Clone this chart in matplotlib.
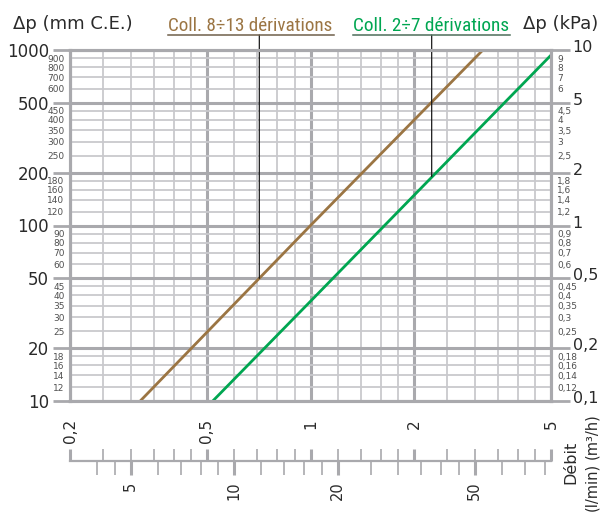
import matplotlib
matplotlib.use('Agg')
import matplotlib.pyplot as plt
import matplotlib.transforms as mtransforms
from matplotlib import font_manager
from matplotlib.lines import Line2D

plt.rcParams['font.family'] = 'DejaVu Sans'

# ==========================
# data
# ==========================
q_brown = [0.32, 1.0, 3.17]      # m3/h
dp_brown = [10, 100, 1000]       # mm C.E.
q_green = [0.52, 1.0, 5.0]
dp_green = [10, 37, 935]
lead_brown = (0.71, 50)          # where the label lines hit the curves
lead_green = (2.25, 190)

label_brown = "Coll. 8÷13 dérivations"
label_green = "Coll. 2÷7 dérivations"

mm_major = [10, 20, 50, 100, 200, 500, 1000]
mm_minor = [12, 14, 16, 18, 25, 30, 35, 40, 45, 60, 70, 80, 90,
            120, 140, 160, 180, 250, 300, 350, 400, 450, 600, 700, 800, 900]
kpa_major_lbl = ['0,1', '0,2', '0,5', '1', '2', '5', '10']
kpa_minor_lbl = ['0,12', '0,14', '0,16', '0,18', '0,25', '0,3', '0,35', '0,4', '0,45',
                 '0,6', '0,7', '0,8', '0,9', '1,2', '1,4', '1,6', '1,8',
                 '2,5', '3', '3,5', '4', '4,5', '6', '7', '8', '9']
q_major = [0.2, 0.5, 1, 2, 5]
q_major_lbl = ['0,2', '0,5', '1', '2', '5']
q_minor = [0.25, 0.3, 0.35, 0.4, 0.45, 0.6, 0.7, 0.8, 0.9,
           1.2, 1.4, 1.6, 1.8, 2.5, 3, 3.5, 4, 4.5]
lmin_major = [5, 10, 20, 50]
lmin_minor = [4, 4.5, 6, 7, 8, 9, 12, 14, 16, 18, 25, 30, 35, 40, 45, 60, 70, 80]

# ==========================
# style
# ==========================
BROWN = '#9b7543'
GREEN = '#00a651'
GRID_THIN = '#c9c9cd'
GRID_BOLD = '#a9a9ad'
TXT = '#2a2a2a'
TXT_SMALL = '#505050'

W, H = 608, 513
fig = plt.figure(figsize=(W / 100, H / 100), dpi=100)


def px(x, y):
    return x / W, 1 - y / H


L, R, T, B = 70, 551, 50, 401
ax = fig.add_axes([L / W, 1 - B / H, (R - L) / W, (B - T) / H])
ax.set_xscale('log')
ax.set_yscale('log')
ax.set_xlim(q_major[0], q_major[-1])
ax.set_ylim(mm_major[0], mm_major[-1])

ax.plot(q_brown, dp_brown, color=BROWN, lw=2.0, solid_capstyle='butt', zorder=3)
ax.plot(q_green, dp_green, color=GREEN, lw=2.0, solid_capstyle='butt', zorder=3)

# grid
ax.set_xticks(q_major)
ax.set_xticks(q_minor, minor=True)
ax.set_yticks(mm_major)
ax.set_yticks(mm_minor, minor=True)
ax.grid(which='minor', color=GRID_THIN, lw=1.3)
ax.grid(which='major', color=GRID_BOLD, lw=2.2)
ax.set_axisbelow(True)

ax.set_xticklabels(q_major_lbl, rotation=90, fontsize=11, color=TXT)
ax.set_xticklabels([], minor=True)
ax.tick_params(axis='x', which='both', length=0, pad=13)

ax.set_yticklabels([str(v) for v in mm_major], fontsize=12, color=TXT)
ax.set_yticklabels([str(v) for v in mm_minor], minor=True, fontsize=6.5, color=TXT_SMALL)
ax.tick_params(axis='y', which='major', length=12, width=2, color=GRID_BOLD, pad=3)
ax.tick_params(axis='y', which='minor', length=0, pad=4)

for s in ax.spines.values():
    s.set_color(GRID_BOLD)
    s.set_linewidth(2.2)

# right axis in kPa
axr = ax.twinx()
axr.set_yscale('log')
axr.set_ylim(mm_major[0] / 100, mm_major[-1] / 100)
axr.set_yticks([v / 100 for v in mm_major])
axr.set_yticks([v / 100 for v in mm_minor], minor=True)
axr.set_yticklabels(kpa_major_lbl, fontsize=11.5, color=TXT)
axr.set_yticklabels(kpa_minor_lbl, minor=True, fontsize=6.5, color=TXT_SMALL)
axr.tick_params(axis='y', which='major', length=14, width=2, color=GRID_BOLD, pad=1.5)
axr.tick_params(axis='y', which='minor', length=0, pad=4.5)
for s in axr.spines.values():
    s.set_color(GRID_BOLD)
    s.set_linewidth(2.2)
# lift the big kPa labels a little so they clear the small ones below them
lift = mtransforms.ScaledTranslation(0, 4 / 100, fig.dpi_scale_trans)
for tk in axr.yaxis.get_major_ticks():
    tk.label2.set_transform(tk.label2.get_transform() + lift)

# secondary flow scale in l/min
ax2 = fig.add_axes([L / W, 1 - 460.7 / H, (R - L) / W, 0.0005])
ax2.set_facecolor('none')
ax2.set_xscale('log')
ax2.set_xlim(q_major[0] * 1000 / 60, q_major[-1] * 1000 / 60)
ax2.set_yticks([])
for k in ['top', 'left', 'right']:
    ax2.spines[k].set_visible(False)
ax2.spines['bottom'].set_color(GRID_BOLD)
ax2.spines['bottom'].set_linewidth(1.6)
ax2.set_xticks(lmin_major)
ax2.set_xticks(lmin_minor, minor=True)
ax2.set_xticklabels([str(v) for v in lmin_major], rotation=90, fontsize=10.5, color=TXT)
ax2.set_xticklabels([], minor=True)
ax2.tick_params(axis='x', which='major', direction='out', length=10, width=2.2,
                color=GRID_BOLD, pad=5)
ax2.tick_params(axis='x', which='minor', direction='out', length=10, width=1.2,
                color=GRID_BOLD)

ax3 = ax2.twiny()
ax3.set_xscale('log')
ax3.set_xlim(q_major[0], q_major[-1])
ax3.xaxis.set_ticks_position('bottom')
ax3.set_xticks(q_major)
ax3.set_xticks(q_minor, minor=True)
ax3.tick_params(axis='x', which='major', direction='in', length=9, width=2.2,
                color=GRID_BOLD, labelbottom=False, labeltop=False)
ax3.tick_params(axis='x', which='minor', direction='in', length=9, width=1.2,
                color=GRID_BOLD, labelbottom=False, labeltop=False)
for s in ax3.spines.values():
    s.set_visible(False)

# axis titles
fig.text(*px(13, 29), 'Δp (mm C.E.)', fontsize=13, color=TXT, ha='left', va='baseline')
fig.text(*px(598, 29), 'Δp (kPa)', fontsize=13, color=TXT, ha='right', va='baseline')
fig.text(*px(571, 462), 'Débit', fontsize=11.5, color=TXT, rotation=90, ha='center', va='center')
fig.text(*px(592, 436), '(m³/h)', fontsize=10.5, color=TXT, rotation=90, ha='center', va='center')
fig.text(*px(592, 487), '(l/min)', fontsize=10.5, color=TXT, rotation=90, ha='center', va='center')


# legend labels with underline + leader lines
def narrow_font():
    prefs = ['LiberationSansNarrow-Regular', 'RobotoCondensed-Regular',
             'DejaVuSansCondensed.ttf', 'OpenSans_Condensed-Regular']
    files = [f.fname for f in font_manager.fontManager.ttflist]
    for p in prefs:
        for fn in files:
            if p in fn:
                return font_manager.FontProperties(fname=fn)
    return font_manager.FontProperties(family='Liberation Sans')


fp = narrow_font()
t1 = fig.text(*px(168, 31), label_brown, color=BROWN, ha='left', va='baseline',
              fontproperties=fp, fontsize=14)
t2 = fig.text(*px(353, 31), label_green, color=GREEN, ha='left', va='baseline',
              fontproperties=fp, fontsize=14)
fig.canvas.draw()
rend = fig.canvas.get_renderer()
for t, target in [(t1, 165), (t2, 157)]:
    w = t.get_window_extent(rend).width
    t.set_fontsize(14 * target / w)

fig.add_artist(Line2D([168 / W, 334 / W], [1 - 35 / H] * 2, transform=fig.transFigure,
                      color='#6f5f4a', lw=1.1))
fig.add_artist(Line2D([353 / W, 510 / W], [1 - 35 / H] * 2, transform=fig.transFigure,
                      color='#4d6e5a', lw=1.1))

trans = mtransforms.blended_transform_factory(ax.transData, fig.transFigure)
for pt in [lead_brown, lead_green]:
    ax.annotate('', xy=pt, xycoords='data', xytext=(pt[0], 1 - 35 / H), textcoords=trans,
                arrowprops=dict(arrowstyle='-', color='#1a1a1a', lw=0.9,
                                shrinkA=0, shrinkB=0),
                annotation_clip=False)

fig.savefig('out.png', dpi=100)
